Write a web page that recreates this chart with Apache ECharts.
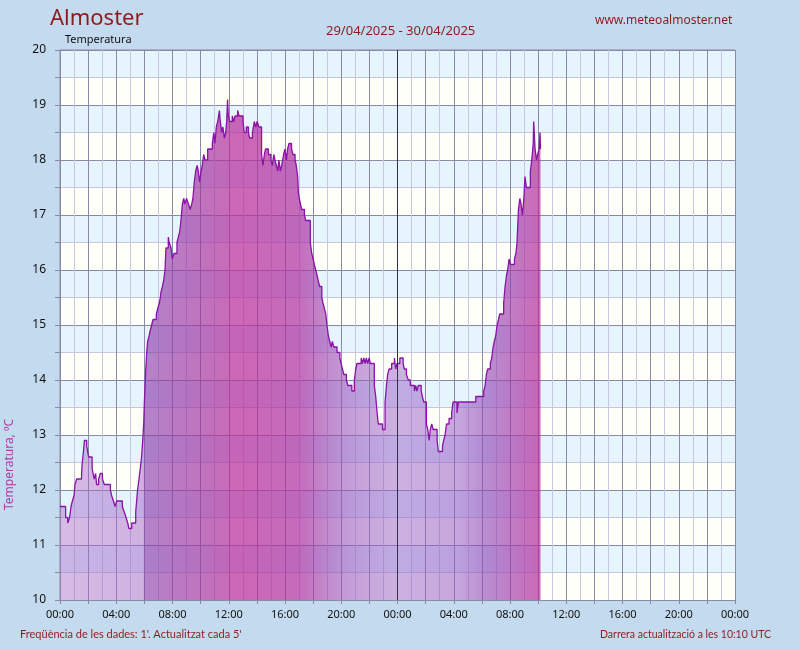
<!DOCTYPE html>
<html><head><meta charset="utf-8">
<script src="https://cdn.jsdelivr.net/npm/echarts@6/dist/echarts.min.js"></script>
<style>html,body{margin:0;padding:0;background:#c4daee;}#c{width:800px;height:650px;}</style>
</head><body><div id="c"></div>
<script>
// minutes since 29/04/2025 00:00 (UTC) at which the reading changes
const minutes = [0,24,33,41,47,53,60,64,71,92,95,100,104,114,118,122,137,141,146,152,156,165,172,181,189,215,220,228,235,242,266,274,282,289,294,306,323,327,331,337,343,348,353,357,360,363,366,370,374,380,385,391,397,411,417,424,428,431,437,442,448,452,462,466,474,479,486,499,505,511,516,522,528,533,540,548,555,562,567,573,579,585,590,596,602,607,613,619,630,650,656,661,667,673,680,684,690,695,701,707,711,715,718,724,735,741,747,758,764,781,786,795,804,809,821,829,835,841,849,860,866,872,877,889,900,906,912,917,923,929,934,940,946,954,960,966,971,977,988,994,1003,1008,1014,1017,1021,1026,1031,1043,1048,1068,1074,1080,1085,1091,1097,1102,1108,1117,1122,1128,1134,1139,1145,1151,1157,1162,1168,1182,1194,1199,1205,1211,1222,1228,1245,1256,1262,1267,1285,1290,1296,1302,1307,1313,1319,1324,1341,1347,1353,1358,1376,1387,1393,1398,1404,1415,1427,1432,1438,1450,1464,1469,1478,1486,1495,1512,1518,1523,1529,1541,1546,1552,1563,1569,1575,1580,1586,1592,1609,1614,1632,1637,1643,1649,1660,1671,1677,1694,1700,1774,1808,1814,1819,1825,1836,1842,1848,1853,1859,1865,1871,1876,1893,1899,1905,1910,1916,1922,1939,1945,1950,1956,1962,1967,1973,1979,1984,1990,2007,2013,2019,2021,2027,2033,2038,2044,2048,2050];
const temperature = [11.7,11.5,11.4,11.5,11.7,11.8,11.9,12.1,12.2,12.3,12.5,12.7,12.9,12.8,12.7,12.6,12.4,12.3,12.2,12.3,12.1,12.2,12.3,12.2,12.1,12.0,11.9,11.8,11.7,11.8,11.7,11.6,11.5,11.4,11.3,11.4,11.6,11.8,12.0,12.2,12.4,12.6,12.9,13.2,13.6,13.9,14.2,14.5,14.7,14.8,14.9,15.0,15.1,15.2,15.3,15.4,15.5,15.6,15.7,15.8,16.0,16.4,16.6,16.5,16.4,16.2,16.3,16.5,16.6,16.7,16.9,17.2,17.3,17.2,17.3,17.2,17.1,17.2,17.3,17.6,17.8,17.9,17.8,17.6,17.8,17.9,18.1,18.0,18.2,18.3,18.5,18.3,18.6,18.7,18.9,18.7,18.5,18.6,18.4,18.5,18.7,19.1,18.8,18.7,18.8,18.7,18.8,18.9,18.8,18.7,18.5,18.6,18.5,18.4,18.5,18.7,18.6,18.7,18.6,18.1,17.9,18.1,18.2,18.1,18.0,17.9,18.1,18.0,17.9,17.8,18.0,17.8,17.9,18.1,18.2,18.0,18.2,18.3,18.2,18.1,18.0,17.9,17.7,17.4,17.3,17.2,17.1,17.0,16.9,16.5,16.3,16.2,16.1,16.0,15.9,15.8,15.7,15.5,15.4,15.3,15.2,15.0,14.8,14.7,14.6,14.7,14.6,14.5,14.4,14.3,14.2,14.1,14.0,13.9,13.8,14.0,14.2,14.3,14.4,14.3,14.4,14.3,14.4,14.3,14.4,14.3,13.9,13.7,13.4,13.2,13.1,13.6,13.9,14.1,14.2,14.3,14.4,14.2,14.3,14.4,14.3,14.2,14.1,14.0,13.9,13.8,13.9,13.8,13.9,13.8,13.7,13.6,13.2,13.1,12.9,13.1,13.2,13.1,12.9,12.7,12.8,12.9,13.0,13.2,13.3,13.4,13.6,13.4,13.6,13.7,13.8,13.9,14.1,14.2,14.3,14.4,14.6,14.7,14.8,15.0,15.1,15.2,15.4,15.7,15.9,16.0,16.2,16.1,16.2,16.3,16.5,17.1,17.3,17.2,17.0,17.3,17.7,17.5,17.8,18.0,18.3,18.7,18.2,18.0,18.1,18.2,18.5,18.2];
const xTickLabels = ['00:00','04:00','08:00','12:00','16:00','20:00','00:00','04:00','08:00','12:00','16:00','20:00','00:00'];
const yTickLabels = ['10','11','12','13','14','15','16','17','18','19','20'];

const data = minutes.map((m, i) => [m, temperature[i]]);
const last = minutes[minutes.length - 1];
function stop(min, color) { return { offset: min / last, color: color }; }

const chart = echarts.init(document.getElementById('c'), null, { renderer: 'canvas' });
const red = '#8b1c1c';
chart.setOption({
  backgroundColor: '#c4daee',
  animation: false,
  grid: { left: 60, right: 65, top: 50, bottom: 50, show: true, borderColor: '#8a8aa4', borderWidth: 1, backgroundColor: 'transparent' },
  xAxis: {
    type: 'value', min: 0, max: 2880, interval: 120,
    axisLine: { show: true, lineStyle: { color: '#8a8aa4' } },
    axisTick: { show: true, length: 4, lineStyle: { color: '#8a8aa4' } },
    axisLabel: { color: '#111', fontFamily: 'Noto Sans', fontSize: 11, margin: 9,
      formatter: v => (v % 240 === 0 ? xTickLabels[v / 240] : '') },
    splitLine: { show: true, lineStyle: { color: '#8a8aa4', width: 1 } },
    minorTick: { show: false, splitNumber: 2 },
    minorSplitLine: { show: true, lineStyle: { color: '#c6c6de', width: 1 } }
  },
  yAxis: {
    type: 'value', min: 10, max: 20, interval: 0.5,
    axisLine: { show: true, lineStyle: { color: '#8a8aa4' } },
    axisTick: { show: true, length: 5, lineStyle: { color: '#8a8aa4' } },
    axisLabel: { color: '#111', fontFamily: 'Noto Sans', fontSize: 12, margin: 14,
      formatter: v => (Number.isInteger(v) ? yTickLabels[v - 10] : '') },
    splitLine: { show: true, lineStyle: { color: ['#8a8aa4', '#c6c6de'], width: 1 } },
    splitArea: { show: true, areaStyle: { color: ['#fffffa', '#e6f4fe'] } }
  },
  graphic: [
    { type: 'text', left: 50, top: 8, style: { text: 'Almoster', fill: red, font: '22px "Noto Sans"' } },
    { type: 'text', left: 326, top: 25, style: { text: '29/04/2025 - 30/04/2025', fill: red, font: '13px "Noto Sans"' } },
    { type: 'text', left: 595, top: 15, style: { text: 'www.meteoalmoster.net', fill: red, font: '12px "Noto Sans"' } },
    { type: 'text', left: 65, top: 34, style: { text: 'Temperatura', fill: '#111', font: '11px "Noto Sans"' } },
    { type: 'text', x: 4, y: 510, rotation: Math.PI / 2, style: { text: 'Temperatura, ºC', fill: '#b03ca8', font: '12px "Noto Sans"', verticalAlign: 'top' } },
    { type: 'text', left: 20, top: 629, style: { text: "Freqüència de les dades: 1'. Actualitzat cada 5'", fill: red, font: '11px Lato' } },
    { type: 'text', left: 600, top: 629, style: { text: 'Darrera actualització a les 10:10 UTC', fill: red, font: '10.5px Lato' } }
  ],
  series: [{
    type: 'line', data: data, step: 'end', symbol: 'none', silent: true,
    lineStyle: { color: '#8a12a6', width: 1.3 },
    areaStyle: {
      origin: 'start', opacity: 1,
      color: new echarts.graphic.LinearGradient(0, 0, 1, 0, [
        stop(0, 'rgba(165,105,200,0.45)'),
        stop(355, 'rgba(160,100,200,0.50)'),
        stop(362, 'rgba(135,55,170,0.62)'),
        stop(600, 'rgba(160,50,160,0.68)'),
        stop(760, 'rgba(185,45,155,0.72)'),
        stop(1020, 'rgba(172,45,160,0.70)'),
        stop(1150, 'rgba(155,70,178,0.62)'),
        stop(1260, 'rgba(150,85,190,0.55)'),
        stop(1440, 'rgba(155,100,200,0.50)'),
        stop(1700, 'rgba(150,90,195,0.54)'),
        stop(1820, 'rgba(140,65,180,0.60)'),
        stop(2050, 'rgba(185,45,155,0.72)')
      ])
    },
    markLine: { silent: true, symbol: 'none', label: { show: false },
      lineStyle: { color: '#30304a', width: 1, type: 'solid' }, data: [{ xAxis: 1440 }] }
  }]
});
</script></body></html>
